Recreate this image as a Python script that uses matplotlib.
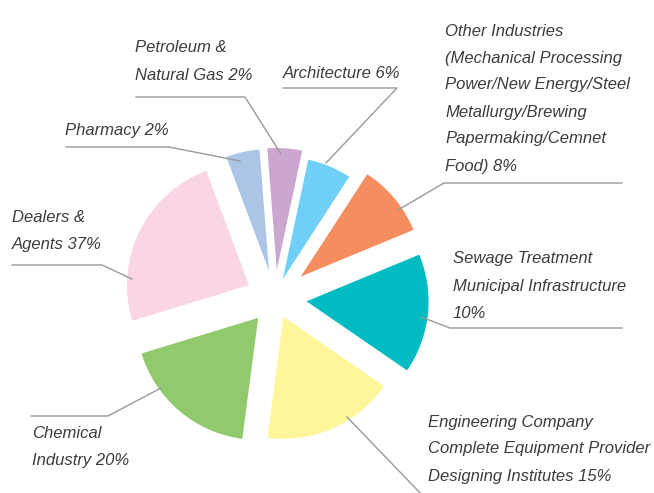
import matplotlib
matplotlib.use('Agg')
import matplotlib.pyplot as plt
from matplotlib import font_manager

# slice sizes as drawn (degrees), counterclockwise from the right
names = ['Other', 'Architecture', 'Petroleum', 'Pharmacy',
         'Dealers', 'Chemical', 'Engineering', 'Sewage']
sizes = [34.5, 21, 16.5, 16, 86.5, 65.5, 63, 57]
explode = [0.275, 0.168, 0.23, 0.225, 0.238, 0.213, 0.169, 0.26]
colors = ['#F68D5E', '#6FCFF6', '#CBA7CF', '#ACC4E6',
          '#F9D5E6', '#91C96D', '#FFF599', '#00BCC2']

labels = [
    ['Other Industries', '(Mechanical Processing', 'Power/New Energy/Steel',
     'Metallurgy/Brewing', 'Papermaking/Cemnet', 'Food) 8%'],
    ['Architecture 6%'],
    ['Petroleum &', 'Natural Gas 2%'],
    ['Pharmacy 2%'],
    ['Dealers &', 'Agents 37%'],
    ['Chemical', 'Industry 20%'],
    ['Engineering Company', 'Complete Equipment Provider',
     'Designing Institutes 15%'],
    ['Sewage Treatment', 'Municipal Infrastructure', '10%'],
]

# label layout in pixel coords: text (x, first line y), leader polyline
text_pos = [(445, 31), (283, 73), (135, 48), (65, 131),
            (12, 217), (32, 434), (428, 422), (453, 259)]
leaders = [
    [(398, 210), (444, 183), (622, 183)],
    [(326, 163), (397, 88), (283, 88)],
    [(281, 154), (245, 97), (136, 97)],
    [(240, 161), (169, 147), (66, 147)],
    [(132, 279), (102, 265), (12, 265)],
    [(161, 388), (108, 416), (31, 416)],
    [(347, 417), (424, 497)],
    [(421, 317), (450, 328), (622, 328)],
]

avail = {f.name for f in font_manager.fontManager.ttflist}
font = 'Liberation Sans Narrow' if 'Liberation Sans Narrow' in avail else 'Liberation Sans'

W, H = 654, 493
R = 122
fig = plt.figure(figsize=(W / 100, H / 100), dpi=100)
ax = fig.add_axes([0, 0, 1, 1])

# y axis is flipped, so run the pie clockwise from -22.5 to get it counterclockwise on screen
# pie's explode is in data units, so scale by the radius
ax.pie(sizes, explode=[e * R for e in explode], colors=colors,
       center=(275, 298), radius=R, startangle=-22.5, counterclock=False,
       frame=True, wedgeprops=dict(linewidth=0))
ax.set_xlim(0, W)
ax.set_ylim(H, 0)
ax.set_aspect('equal')
ax.axis('off')

for pts in leaders:
    xs = [p[0] for p in pts]
    ys = [p[1] for p in pts]
    ax.plot(xs, ys, color='#999999', lw=1, zorder=3, clip_on=False)

for lines, (x, y) in zip(labels, text_pos):
    for i, line in enumerate(lines):
        ax.text(x, y + i * 27, line, fontsize=12, style='italic',
                family=font, color='#3c3c3c', va='center', ha='left')

fig.savefig('out.png', dpi=100)
